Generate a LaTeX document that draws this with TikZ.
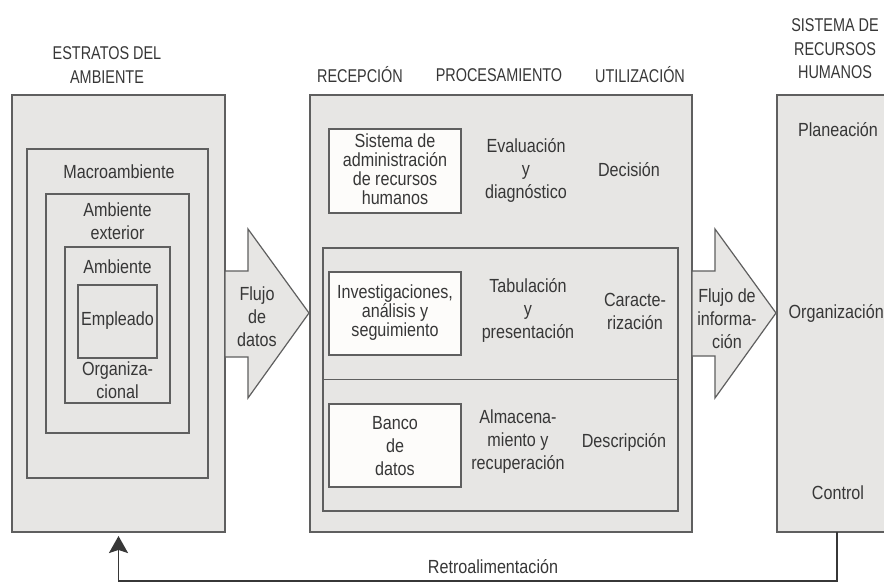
\documentclass[tikz,border=0pt]{standalone}
\usepackage{fontspec}
\setmainfont[FakeStretch=0.85]{Liberation Sans}
\newfontfamily\capsfont[FakeStretch=0.78]{Liberation Sans}
\usetikzlibrary{arrows.meta}
\definecolor{panelfill}{RGB}{231,230,228}
\definecolor{edge}{RGB}{95,95,95}
\definecolor{ink}{RGB}{55,55,55}
\definecolor{cardfill}{RGB}{253,252,250}

\begin{document}
\begin{tikzpicture}[x=1pt,y=-1pt,
  panel/.style={draw=edge, fill=panelfill, line width=1.2pt, inner sep=0pt, outer sep=0pt},
  card/.style={draw=edge, fill=cardfill, line width=1.2pt, inner sep=0pt, outer sep=0pt},
  divider/.style={draw=edge, line width=1.2pt},
  txt/.style={text=ink, font=\fontsize{19}{23}\selectfont, align=center, inner sep=0pt},
  tight/.style={text=ink, font=\fontsize{19}{19}\selectfont, align=center, inner sep=0pt},
  hdr/.style={text=ink, font=\capsfont\fontsize{18.5}{23.5}\selectfont, align=center, inner sep=0pt},
  flow/.style={draw=edge, fill=panelfill, line width=1.2pt, line join=miter},
  feedback/.style={draw=ink, line width=1.8pt, -{Stealth[length=17pt,width=19pt,inset=3pt]}}
]
% page frame
\useasboundingbox (0,0) rectangle (884,583);
\clip (0,0) rectangle (884,583);
\fill[white] (0,0) rectangle (884,583);

% ---- environment strata (nested boxes)
\node[panel, minimum width=213pt, minimum height=437pt] (estratos) at (118.5,313.5) {};
\node[panel, minimum width=181pt, minimum height=329pt] (macro) at (117.5,313.5) {};
\node[panel, minimum width=143pt, minimum height=239pt] (exterior) at (117.5,313.5) {};
\node[panel, minimum width=105pt, minimum height=156pt] (ambiente) at (117.5,325) {};
\node[panel, minimum width=79pt, minimum height=73pt] (empleado) at (117.5,321.5) {};

\node[hdr] (tEstratos) at (107,65) {ESTRATOS DEL\\AMBIENTE};
\node[txt] (tMacro) at (119,172) {Macroambiente};
\node[txt] (tExterior) at (117.5,221) {Ambiente\\exterior};
\node[txt] (tAmbiente) at (117.5,267) {Ambiente};
\node[txt] (tEmpleado) at (117.5,321) {Empleado};
\node[txt] (tOrg) at (117.5,380) {Organiza-\\cional};

% ---- processing block
\node[panel, minimum width=382pt, minimum height=437pt] (proc) at (501,313.5) {};
\node[panel, minimum width=355pt, minimum height=263pt] (lower) at (500.5,379.5) {};
\draw[divider] (lower.west) -- (lower.east);
\node[card, minimum width=132pt, minimum height=84pt] (card1) at (395,171) {};
\node[card, minimum width=132pt, minimum height=83pt] (card2) at (395,313.5) {};
\node[card, minimum width=132pt, minimum height=83pt] (card3) at (395,445.5) {};

\node[hdr] (hRec) at (360,75) {RECEPCIÓN};
\node[hdr] (hProc) at (499,75) {PROCESAMIENTO};
\node[hdr] (hUtil) at (640,75) {UTILIZACIÓN};

\node[tight] (tSist) at (395,169) {Sistema de\\administración\\de recursos\\humanos};
\node[txt] (tEval) at (526,170) {Evaluación\\y\\diagnóstico};
\node[txt] (tDec) at (629,170) {Decisión};

\node[tight] (tInv) at (395,313) {Investigaciones,\\análisis y\\seguimiento};
\node[txt] (tTab) at (528,310) {Tabulación\\y\\presentación};
\node[txt] (tCar) at (635,311) {Caracte-\\rización};

\node[txt] (tBanco) at (395,446) {Banco\\de\\datos};
\node[txt] (tAlm) at (518,442) {Almacena-\\miento y\\recuperación};
\node[txt] (tDesc) at (624,442) {Descripción};

% ---- human resources system
\node[panel, minimum width=163pt, minimum height=437pt] (rh) at (858.5,313.5) {};
\node[hdr] (hRH) at (835,49) {SISTEMA DE\\RECURSOS\\HUMANOS};
\node[txt] (tPlan) at (838,130) {Planeación};
\node[txt, anchor=east] (tOrgz) at (884,313) {Organización};
\node[txt] (tCtrl) at (838,493) {Control};

% ---- block arrows
\path[flow] (225,357) -- (225,271) -- (248,271) -- (248,229) -- (309,313)
  -- (248,398) -- (248,357) -- cycle;
\node[txt] (tFlujo1) at (257,317) {Flujo\\de\\datos};

\path[flow] (692,356) -- (692,271) -- (715,271) -- (715,229) -- (776,313)
  -- (715,398) -- (715,356) -- cycle;
\node[txt] (tFlujo2) at (727,319) {Flujo de\\informa-\\ción};

% ---- feedback loop
\coordinate (fbstart) at (837,532);
\draw[feedback] (fbstart) -- (837,581) -| ([yshift=-4pt]estratos.south);
\node[txt] (tRetro) at (493,567) {Retroalimentación};
\end{tikzpicture}
\end{document}
